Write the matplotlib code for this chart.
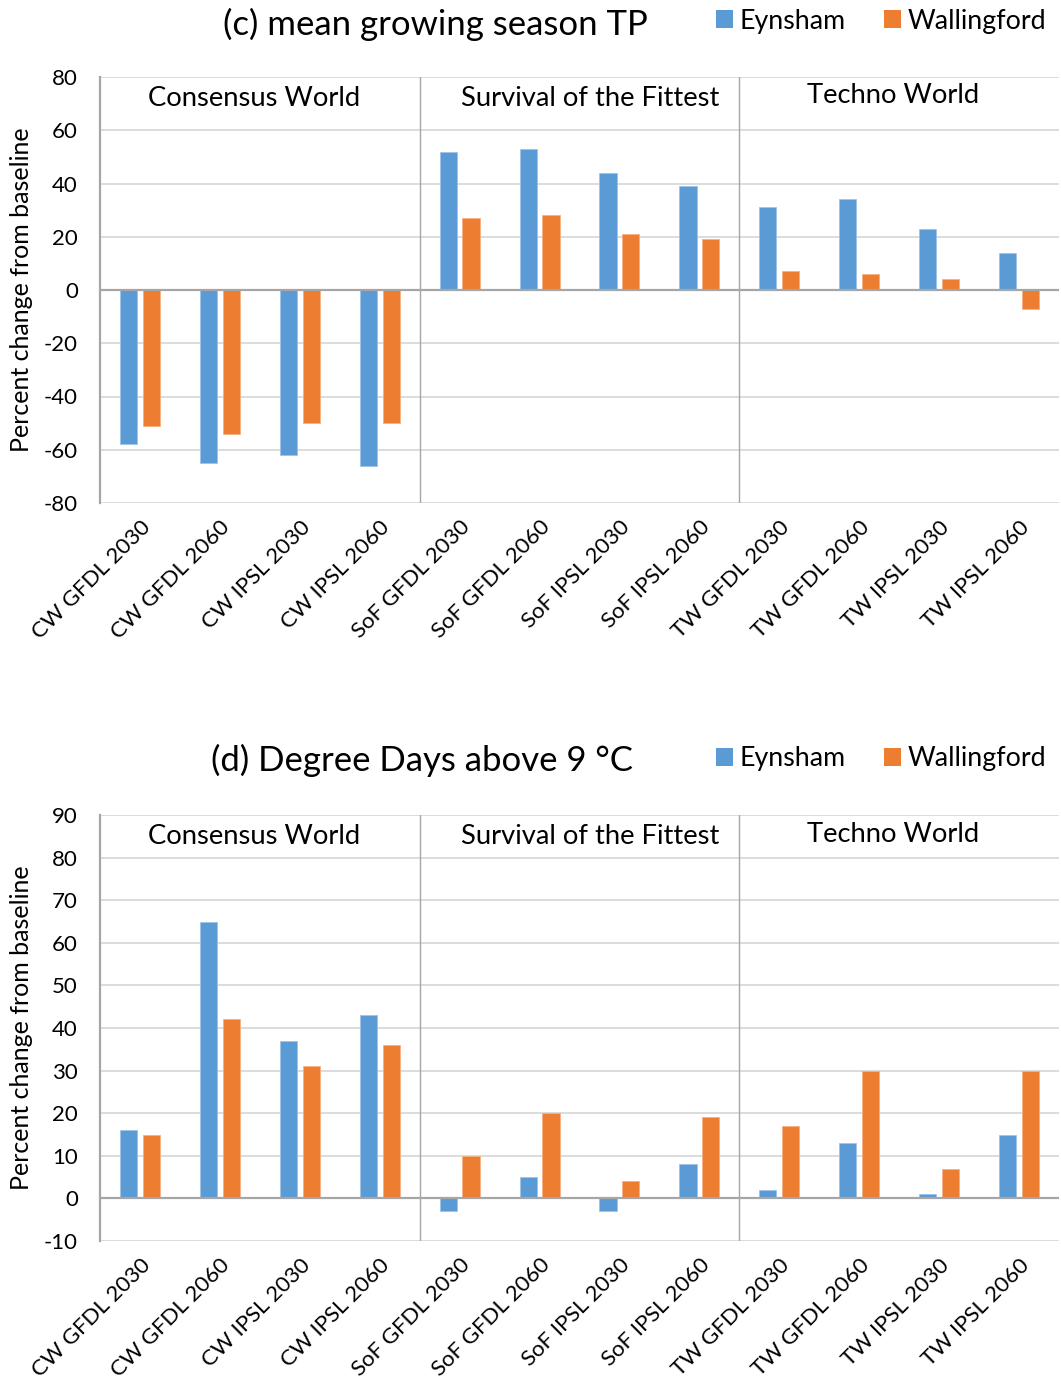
import matplotlib
matplotlib.use("Agg")
import matplotlib.pyplot as plt
from matplotlib.patches import Patch

plt.rcParams['font.family'] = ['Lato', 'DejaVu Sans']

categories = ["CW GFDL 2030", "CW GFDL 2060", "CW IPSL 2030", "CW IPSL 2060",
              "SoF GFDL 2030", "SoF GFDL 2060", "SoF IPSL 2030", "SoF IPSL 2060",
              "TW GFDL 2030", "TW GFDL 2060", "TW IPSL 2030", "TW IPSL 2060"]
groups = ["Consensus World", "Survival of the Fittest", "Techno World"]
series_names = ["Eynsham", "Wallingford"]

# (c) mean growing season TP, percent change from baseline
tp_eynsham = [-58, -65, -62, -66, 52, 53, 44, 39, 31, 34, 23, 14]
tp_wallingford = [-51, -54, -50, -50, 27, 28, 21, 19, 7, 6, 4, -7]

# (d) degree days above 9 °C, percent change from baseline
dd_eynsham = [16, 65, 37, 43, -3, 5, -3, 8, 2, 13, 1, 15]
dd_wallingford = [15, 42, 31, 36, 10, 20, 4, 19, 17, 30, 7, 30]

tp_ticks = [-80, -60, -40, -20, 0, 20, 40, 60, 80]
dd_ticks = [-10, 0, 10, 20, 30, 40, 50, 60, 70, 80, 90]

BLUE = "#5B9BD5"
ORANGE = "#ED7D31"
GRID = "#d9d9d9"
AXIS = "#a6a6a6"

W, H = 1061, 1379
fig = plt.figure(figsize=(W / 100, H / 100), dpi=100)


def px_box(left, top, right, bottom):
    return [left / W, 1 - bottom / H, (right - left) / W, (bottom - top) / H]


def panel(box, title, title_xy, eyn, wal, ticks, label_ys, legend_y):
    ax = fig.add_axes(px_box(*box))
    x = list(range(len(categories)))
    width = 0.215
    off = 0.143
    ax.bar([i - off for i in x], eyn, width, color=BLUE, edgecolor="#9dc3e6",
           linewidth=0.6, zorder=2, label=series_names[0])
    ax.bar([i + off for i in x], wal, width, color=ORANGE, edgecolor="#f4b183",
           linewidth=0.6, zorder=2, label=series_names[1])
    ax.set_xlim(-0.5, len(categories) - 0.5)
    ax.set_ylim(ticks[0], ticks[-1])
    ax.set_yticks(ticks)
    ax.set_yticklabels([str(t) for t in ticks], fontsize=16)
    ax.yaxis.grid(True, color=GRID, linewidth=1.3, zorder=0)
    ax.set_axisbelow(True)
    ax.axhline(0, color=AXIS, linewidth=1.6, zorder=3)
    for s in ["top", "right", "bottom"]:
        ax.spines[s].set_visible(False)
    ax.spines["left"].set_color(AXIS)
    ax.spines["left"].set_linewidth(1.6)
    ax.tick_params(axis="y", length=0, pad=16)
    ax.tick_params(axis="x", length=0, pad=10)
    ax.set_xticks(x)
    ax.set_xticklabels(categories, rotation=45, ha="right", va="top",
                       rotation_mode="anchor", fontsize=16)
    for b in (3.5, 7.5):
        ax.axvline(b, color=AXIS, linewidth=1.0, zorder=1)
    # group captions sit near the top of each block of four scenarios
    shifts = [-0.07, 0.13, -0.08]
    for gi, (g, ly) in enumerate(zip(groups, label_ys)):
        ax.text(gi * 4 + 1.5 + shifts[gi], ly, g, ha="center", va="center",
                fontsize=19.7, transform=ax.transData)
    fig.text(22 / W, 1 - ((box[1] + box[3]) / 2) / H, "Percent change from baseline",
             rotation=90, ha="center", va="center", fontsize=18)
    fig.text(title_xy[0] / W, 1 - title_xy[1] / H, title, ha="center", va="center",
             fontsize=25)
    handles = [Patch(facecolor=BLUE), Patch(facecolor=ORANGE)]
    fig.legend(handles, series_names, loc="center left",
               bbox_to_anchor=(716 / W, 1 - legend_y / H), ncol=2, frameon=False,
               fontsize=19.3, handlelength=0.62, handleheight=0.62,
               handletextpad=0.25, columnspacing=1.45, borderaxespad=0,
               borderpad=0)
    return ax


panel((100, 77, 1059, 503), "(c) mean growing season TP", (435, 24),
      tp_eynsham, tp_wallingford, tp_ticks, [72, 72, 73], 21)
panel((100, 815, 1059, 1241), "(d) Degree Days above 9 \u00b0C", (422, 760),
      dd_eynsham, dd_wallingford, dd_ticks, [85, 85, 85.5], 759)

fig.savefig("out.png", dpi=100)
